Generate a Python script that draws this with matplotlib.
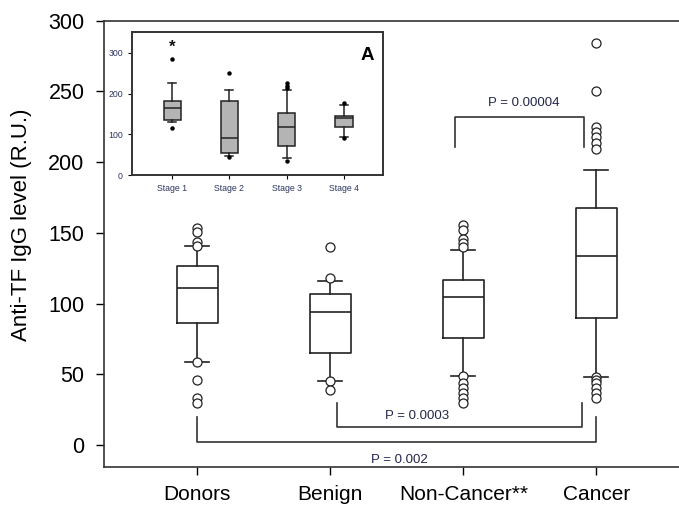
import numpy as np
import matplotlib
matplotlib.use('Agg')
import matplotlib.pyplot as plt
plt.rcParams['font.family'] = ['Liberation Sans', 'DejaVu Sans']

# main panel: box statistics (R.U.)
groups = ['Donors', 'Benign', 'Non-Cancer**', 'Cancer']
q1 = [86, 65, 76, 90]
med = [111, 94, 105, 134]
q3 = [126.6, 107, 117, 167.6]
whislo = [58.7, 45, 49, 48]
whishi = [140.7, 116, 138, 194.5]
fliers = [
    [153.5, 150.6, 143.6, 140.7, 58.7, 46, 33, 29.7],
    [140, 118, 45, 39],
    [155.6, 152, 146, 143, 140, 49, 44, 40, 37, 33, 30],
    [284, 250, 225, 221, 218, 213.6, 209, 48, 46, 44, 40, 37, 33],
]

# comparisons: (left x, right x, bar level, leg top, label, label x, label y)
pairs = [
    (2.94, 3.91, 232, 211, 'P = 0.00004', 3.45, 242),
    (2.05, 3.89, 12.5, 30, 'P = 0.0003', 2.65, 20.5),
    (1.0, 4.0, 2, 20, 'P = 0.002', 2.52, -10.6),
]

# inset: cancer stages
stages = ['Stage 1', 'Stage 2', 'Stage 3', 'Stage 4']
s_q1 = [135, 55, 71, 118.5]
s_med = [163.6, 90, 118.5, 139]
s_q3 = [182, 181.5, 151, 145]
s_lo = [129, 46.6, 41, 94]
s_hi = [227, 208, 208, 172]
s_fliers = [[284, 116], [249.5, 43], [225, 218, 213, 34], [176, 92]]
s_star = [313, None, None, None]

txtc = '#23264a'

fig = plt.figure(figsize=(6.79, 5.11), dpi=100)
ax = fig.add_axes([104 / 679, 1 - 467 / 511, 1 - 104 / 679, (467 - 20.7) / 511])

pos = np.arange(1, len(groups) + 1)
stats = [dict(med=med[i], q1=q1[i], q3=q3[i], whislo=whislo[i], whishi=whishi[i],
              fliers=fliers[i]) for i in range(len(groups))]
ax.bxp(stats, positions=pos, widths=0.31, showfliers=True,
       boxprops=dict(color='#222222', lw=1.2),
       medianprops=dict(color='#222222', lw=1.2),
       whiskerprops=dict(color='#222222', lw=1.2),
       capprops=dict(color='#222222', lw=1.2),
       capwidths=0.18,
       flierprops=dict(marker='o', markerfacecolor='white', markeredgecolor='#222222',
                       markersize=6.5, markeredgewidth=0.9))

for a, b, lev, top, lab, tx, ty in pairs:
    ax.plot([a, a, b, b], [top, lev, lev, top], color='#333333', lw=1.2)
    ax.text(tx, ty, lab, ha='center', va='center', fontsize=9.5, color=txtc)

ax.set_xlim(0.30, 4.62)
ax.set_ylim(-15.5, 300)
ax.set_yticks([0, 50, 100, 150, 200, 250, 300])
ax.set_xticks(pos)
ax.set_xticklabels(groups, fontsize=15)
ax.tick_params(axis='y', labelsize=15.5, length=6, width=1, direction='out', pad=8)
ax.tick_params(axis='x', length=6, width=1, direction='out', pad=7)
ax.set_ylabel('Anti-TF IgG level (R.U.)', fontsize=16)
ax.yaxis.set_label_coords(-0.125, 0.542)
ax.spines['right'].set_visible(False)
for s in ['left', 'top', 'bottom']:
    ax.spines[s].set_linewidth(1.2)
    ax.spines[s].set_color('#333333')

# inset
ins = fig.add_axes([132 / 679, 1 - 175 / 511, (383 - 132) / 679, (175 - 32) / 511])
spos = np.arange(1, len(stages) + 1)
sstats = [dict(med=s_med[i], q1=s_q1[i], q3=s_q3[i], whislo=s_lo[i], whishi=s_hi[i],
               fliers=s_fliers[i]) for i in range(len(stages))]
ins.bxp(sstats, positions=spos, widths=0.3, patch_artist=True, showfliers=True,
        boxprops=dict(facecolor='#b4b4b4', edgecolor='#222222', lw=1.1),
        medianprops=dict(color='#222222', lw=1.1),
        whiskerprops=dict(color='#222222', lw=1.1),
        capprops=dict(color='#222222', lw=1.1),
        capwidths=0.14,
        flierprops=dict(marker='o', markerfacecolor='black', markeredgecolor='black',
                        markersize=2.2))
for i, v in enumerate(s_star):
    if v is not None:
        ins.text(spos[i], v, '*', ha='center', va='center', fontsize=12,
                 fontweight='bold', color='#111111')
ins.text(4.4, 293, 'A', ha='center', va='center', fontsize=13.5, fontweight='bold')
ins.set_xlim(0.30, 4.68)
ins.set_ylim(0, 351)
ins.set_yticks([0, 100, 200, 300])
ins.set_xticks(spos)
ins.set_xticklabels(stages)
ins.tick_params(labelsize=6.3, length=3, width=0.8, direction='out', labelcolor='#2b3560')
for s in ins.spines.values():
    s.set_linewidth(1.4)
    s.set_color('#333333')

fig.savefig('out.png', dpi=100)
